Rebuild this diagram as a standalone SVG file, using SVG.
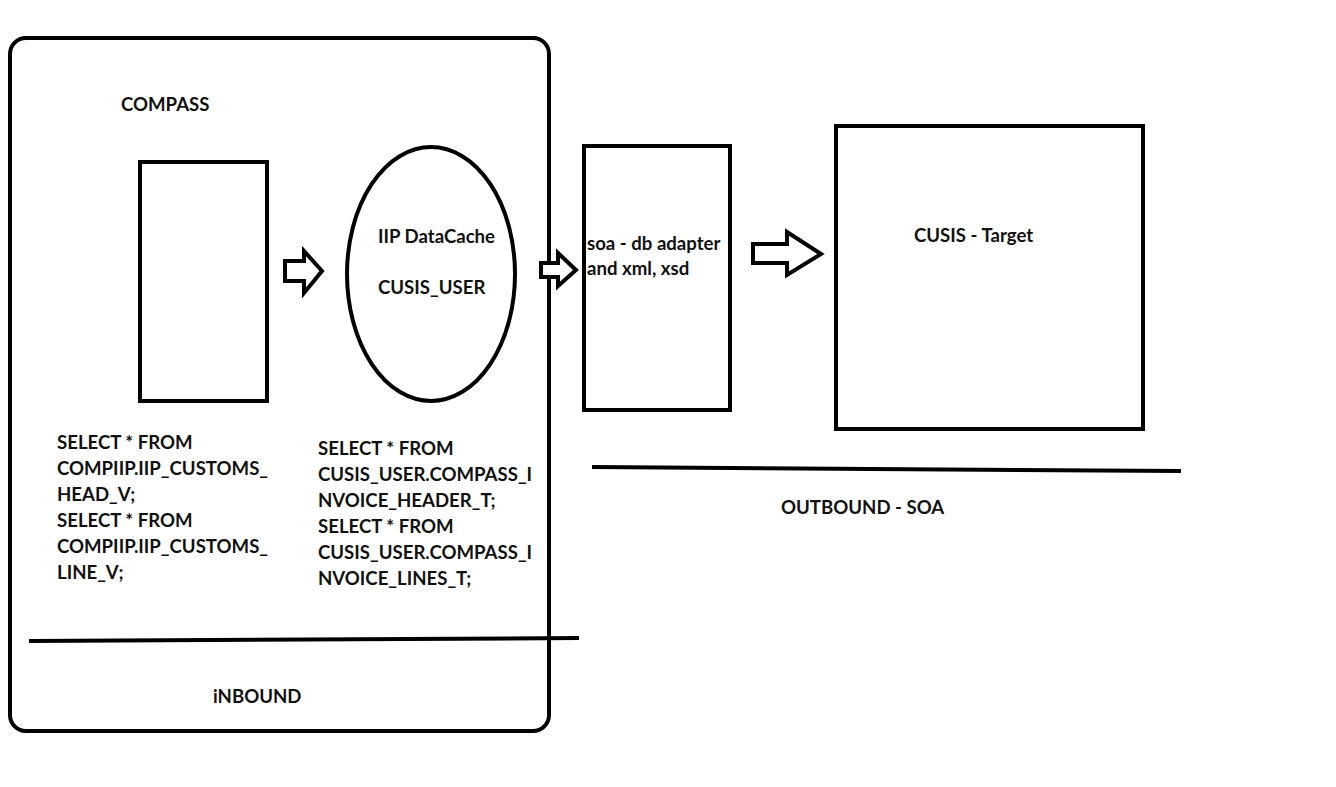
<svg xmlns="http://www.w3.org/2000/svg" width="1336" height="787" viewBox="0 0 1336 787">
<style>
  .shape { fill: none; stroke: #000; stroke-width: 4; }
  .arrow { fill: #fff; stroke: #000; stroke-width: 4; stroke-linejoin: miter; }
  .lbl { font-family: Lato, "Liberation Sans", sans-serif; font-weight: 700; font-size: 18.6px; fill: #111; }
</style>
<rect width="1336" height="787" fill="#fff"/>
<g id="inbound">
  <rect class="shape" x="10" y="38" width="539" height="693" rx="16" ry="16"/>
  <text class="lbl" x="121" y="111">COMPASS</text>
  <line class="shape" x1="29" y1="641" x2="579" y2="638"/>
  <text class="lbl" x="213" y="703">iNBOUND</text>
</g>
<g id="compass-source">
  <rect class="shape" x="140" y="162" width="127" height="239"/>
  <text class="lbl" x="57"><tspan x="57" y="449">SELECT * FROM</tspan><tspan x="57" y="475">COMPIIP.IIP_CUSTOMS_</tspan><tspan x="57" y="501">HEAD_V;</tspan><tspan x="57" y="527">SELECT * FROM</tspan><tspan x="57" y="553">COMPIIP.IIP_CUSTOMS_</tspan><tspan x="57" y="579">LINE_V;</tspan></text>
</g>
<g id="datacache">
  <ellipse class="shape" cx="431" cy="274" rx="84" ry="127"/>
  <text class="lbl" x="378" y="243">IIP DataCache</text>
  <text class="lbl" x="378" y="294">CUSIS_USER</text>
  <text class="lbl" x="318"><tspan x="318" y="455">SELECT * FROM</tspan><tspan x="318" y="481">CUSIS_USER.COMPASS_I</tspan><tspan x="318" y="507">NVOICE_HEADER_T;</tspan><tspan x="318" y="533">SELECT * FROM</tspan><tspan x="318" y="559">CUSIS_USER.COMPASS_I</tspan><tspan x="318" y="585">NVOICE_LINES_T;</tspan></text>
</g>
<g id="soa">
  <rect class="shape" x="584" y="146" width="146" height="264"/>
  <text class="lbl" x="587" y="250">soa - db adapter</text>
  <text class="lbl" x="587" y="275">and xml, xsd</text>
</g>
<g id="target">
  <rect class="shape" x="836" y="126" width="307" height="303"/>
  <text class="lbl" x="914" y="242">CUSIS - Target</text>
</g>
<g id="outbound">
  <line class="shape" x1="592" y1="467" x2="1181" y2="471"/>
  <text class="lbl" x="781" y="514">OUTBOUND - SOA</text>
</g>
<g id="connectors">
  <polygon class="arrow" points="285,261 304,261 304,251 322,271 304,293 304,281 285,281"/>
  <polygon class="arrow" points="541,263 558,263 558,253 576,270 558,286 558,277 541,277"/>
  <polygon class="arrow" points="753,244 787,244 787,232 821,254 787,275 787,263 753,263"/>
</g>
</svg>
